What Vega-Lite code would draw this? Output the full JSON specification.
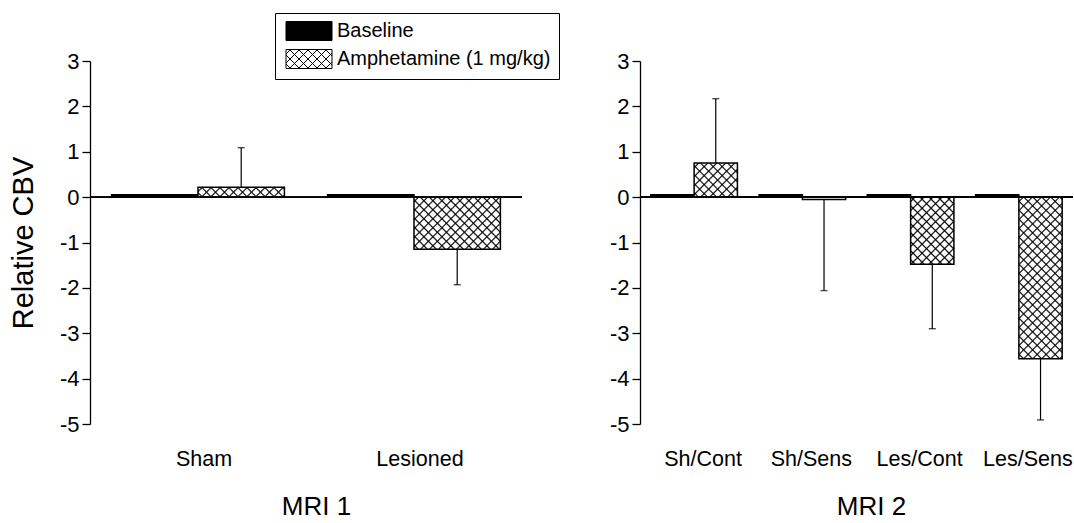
{
  "$schema": "https://vega.github.io/schema/vega-lite/v6.json",
  "padding": {"left": 9, "top": 12, "right": 0, "bottom": 0},
  "bounds": "flush",
  "spacing": 118,
  "resolve": {"scale": {"xOffset": "independent"}},
  "datasets": {
    "mri1": [
      {"group": "Sham", "treatment": "Baseline", "value": 0.05},
      {"group": "Sham", "treatment": "Amphetamine (1 mg/kg)", "value": 0.22, "bound": 1.09},
      {"group": "Lesioned", "treatment": "Baseline", "value": 0.05},
      {"group": "Lesioned", "treatment": "Amphetamine (1 mg/kg)", "value": -1.15, "bound": -1.93}
    ],
    "mri2": [
      {"group": "Sh/Cont", "treatment": "Baseline", "value": 0.05},
      {"group": "Sh/Cont", "treatment": "Amphetamine (1 mg/kg)", "value": 0.75, "bound": 2.17},
      {"group": "Sh/Sens", "treatment": "Baseline", "value": 0.05},
      {"group": "Sh/Sens", "treatment": "Amphetamine (1 mg/kg)", "value": -0.05, "bound": -2.06},
      {"group": "Les/Cont", "treatment": "Baseline", "value": 0.05},
      {"group": "Les/Cont", "treatment": "Amphetamine (1 mg/kg)", "value": -1.48, "bound": -2.9},
      {"group": "Les/Sens", "treatment": "Baseline", "value": 0.05},
      {"group": "Les/Sens", "treatment": "Amphetamine (1 mg/kg)", "value": -3.56, "bound": -4.91}
    ]
  },
  "hconcat": [
    {
      "data": {"name": "mri1"},
      "width": 432,
      "height": 363,
      "layer": [
        {
          "mark": {"type": "bar", "stroke": "black", "strokeWidth": 1.5},
          "encoding": {
            "x": {"field": "group", "type": "nominal", "sort": null, "title": "MRI 1",
              "scale": {"paddingInner": 0.2, "paddingOuter": 0.1},
              "axis": {"domain": false, "ticks": false, "tickSize": 0, "labelAngle": 0,
                "labelFontSize": 21.5, "labelPadding": 24, "labelOffset": 6,
                "titleFontSize": 26, "titlePadding": 24, "titleX": 226}},
            "xOffset": {"field": "treatment", "sort": ["Baseline", "Amphetamine (1 mg/kg)"]},
            "y": {"field": "value", "type": "quantitative", "title": "Relative CBV", "scale": {"domain": [-5, 3], "nice": false},
              "axis": {"values": [-5, -4.5, -4, -3.5, -3, -2.5, -2, -1.5, -1, -0.5, 0, 0.5, 1, 1.5, 2, 2.5, 3],
                "labelExpr": "datum.value % 1 === 0 ? '' + datum.value : ''", "labelOverlap": false,
                "tickSize": {"condition": {"test": "datum.value % 1 === 0", "value": 8}, "value": 4},
                "labelFontSize": 22, "labelPadding": 3, "domainWidth": 1.3, "tickWidth": 1.3,
                "titleFontSize": 29, "titlePadding": 21}},
            "color": {"field": "treatment", "type": "nominal",
              "scale": {"domain": ["Baseline", "Amphetamine (1 mg/kg)"], "range": ["black", "white"]},
              "legend": {"title": null, "orient": "none", "legendX": 185, "legendY": -48, "direction": "vertical",
                "strokeColor": "black", "fillColor": "white", "padding": 8, "rowPadding": 4,
                "symbolType": "M0,-9.5H46V9.5H0ZM0,-5L4.5,-9.5M0,4L13.5,-9.5M3.5,9.5L22.5,-9.5M12.5,9.5L31.5,-9.5M21.5,9.5L40.5,-9.5M30.5,9.5L46,-6M39.5,9.5L46,3M0,5L4.5,9.5M0,-4L13.5,9.5M3.5,-9.5L22.5,9.5M12.5,-9.5L31.5,9.5M21.5,-9.5L40.5,9.5M30.5,-9.5L46,6M39.5,-9.5L46,-3",
                "symbolSize": 4, "symbolStrokeColor": "black", "symbolStrokeWidth": 1, "symbolOffset": -7,
                "labelOffset": 41, "labelFont": "Liberation Sans", "labelFontSize": 20, "labelColor": "black", "labelLimit": 0}}
          }
        },
        {
          "transform": [{"filter": "datum.group === 'Sham' && datum.treatment !== 'Baseline'"}],
          "mark": {"type": "bar", "fill": {"gradient": "linear", "x1": 0, "y1": 0, "x2": 2.467, "y2": 0.285, "stops": [
            {"offset":0.0133,"color":"#0000"},{"offset":0.0208,"color":"#000"},{"offset":0.0283,"color":"#0000"},
            {"offset":0.0550,"color":"#0000"},{"offset":0.0625,"color":"#000"},{"offset":0.0700,"color":"#0000"},
            {"offset":0.0967,"color":"#0000"},{"offset":0.1042,"color":"#000"},{"offset":0.1117,"color":"#0000"},
            {"offset":0.1383,"color":"#0000"},{"offset":0.1458,"color":"#000"},{"offset":0.1533,"color":"#0000"},
            {"offset":0.1800,"color":"#0000"},{"offset":0.1875,"color":"#000"},{"offset":0.1950,"color":"#0000"},
            {"offset":0.2217,"color":"#0000"},{"offset":0.2292,"color":"#000"},{"offset":0.2367,"color":"#0000"},
            {"offset":0.2633,"color":"#0000"},{"offset":0.2708,"color":"#000"},{"offset":0.2783,"color":"#0000"},
            {"offset":0.3050,"color":"#0000"},{"offset":0.3125,"color":"#000"},{"offset":0.3200,"color":"#0000"},
            {"offset":0.3467,"color":"#0000"},{"offset":0.3542,"color":"#000"},{"offset":0.3617,"color":"#0000"},
            {"offset":0.3883,"color":"#0000"},{"offset":0.3958,"color":"#000"},{"offset":0.4033,"color":"#0000"},
            {"offset":0.4300,"color":"#0000"},{"offset":0.4375,"color":"#000"},{"offset":0.4450,"color":"#0000"},
            {"offset":0.4717,"color":"#0000"},{"offset":0.4792,"color":"#000"},{"offset":0.4867,"color":"#0000"}]}},
          "encoding": {
            "x": {"field": "group", "type": "nominal", "sort": null},
            "xOffset": {"field": "treatment", "sort": ["Baseline", "Amphetamine (1 mg/kg)"]},
            "y": {"field": "value", "type": "quantitative", "scale": {"domain": [-5, 3], "nice": false}}
          }
        },
        {
          "transform": [{"filter": "datum.group === 'Sham' && datum.treatment !== 'Baseline'"}],
          "mark": {"type": "bar", "fill": {"gradient": "linear", "x1": 0, "y1": 1, "x2": 2.467, "y2": 0.715, "stops": [
            {"offset":0.0133,"color":"#0000"},{"offset":0.0208,"color":"#000"},{"offset":0.0283,"color":"#0000"},
            {"offset":0.0550,"color":"#0000"},{"offset":0.0625,"color":"#000"},{"offset":0.0700,"color":"#0000"},
            {"offset":0.0967,"color":"#0000"},{"offset":0.1042,"color":"#000"},{"offset":0.1117,"color":"#0000"},
            {"offset":0.1383,"color":"#0000"},{"offset":0.1458,"color":"#000"},{"offset":0.1533,"color":"#0000"},
            {"offset":0.1800,"color":"#0000"},{"offset":0.1875,"color":"#000"},{"offset":0.1950,"color":"#0000"},
            {"offset":0.2217,"color":"#0000"},{"offset":0.2292,"color":"#000"},{"offset":0.2367,"color":"#0000"},
            {"offset":0.2633,"color":"#0000"},{"offset":0.2708,"color":"#000"},{"offset":0.2783,"color":"#0000"},
            {"offset":0.3050,"color":"#0000"},{"offset":0.3125,"color":"#000"},{"offset":0.3200,"color":"#0000"},
            {"offset":0.3467,"color":"#0000"},{"offset":0.3542,"color":"#000"},{"offset":0.3617,"color":"#0000"},
            {"offset":0.3883,"color":"#0000"},{"offset":0.3958,"color":"#000"},{"offset":0.4033,"color":"#0000"},
            {"offset":0.4300,"color":"#0000"},{"offset":0.4375,"color":"#000"},{"offset":0.4450,"color":"#0000"},
            {"offset":0.4717,"color":"#0000"},{"offset":0.4792,"color":"#000"},{"offset":0.4867,"color":"#0000"}]}},
          "encoding": {
            "x": {"field": "group", "type": "nominal", "sort": null},
            "xOffset": {"field": "treatment", "sort": ["Baseline", "Amphetamine (1 mg/kg)"]},
            "y": {"field": "value", "type": "quantitative", "scale": {"domain": [-5, 3], "nice": false}}
          }
        },
        {
          "transform": [{"filter": "datum.group === 'Lesioned' && datum.treatment !== 'Baseline'"}],
          "mark": {"type": "bar", "fill": {"gradient": "linear", "x1": 0, "y1": 0, "x2": 1.832, "y2": 1.106, "stops": [
            {"offset":0.0133,"color":"#0000"},{"offset":0.0208,"color":"#000"},{"offset":0.0283,"color":"#0000"},
            {"offset":0.0550,"color":"#0000"},{"offset":0.0625,"color":"#000"},{"offset":0.0700,"color":"#0000"},
            {"offset":0.0967,"color":"#0000"},{"offset":0.1042,"color":"#000"},{"offset":0.1117,"color":"#0000"},
            {"offset":0.1383,"color":"#0000"},{"offset":0.1458,"color":"#000"},{"offset":0.1533,"color":"#0000"},
            {"offset":0.1800,"color":"#0000"},{"offset":0.1875,"color":"#000"},{"offset":0.1950,"color":"#0000"},
            {"offset":0.2217,"color":"#0000"},{"offset":0.2292,"color":"#000"},{"offset":0.2367,"color":"#0000"},
            {"offset":0.2633,"color":"#0000"},{"offset":0.2708,"color":"#000"},{"offset":0.2783,"color":"#0000"},
            {"offset":0.3050,"color":"#0000"},{"offset":0.3125,"color":"#000"},{"offset":0.3200,"color":"#0000"},
            {"offset":0.3467,"color":"#0000"},{"offset":0.3542,"color":"#000"},{"offset":0.3617,"color":"#0000"},
            {"offset":0.3883,"color":"#0000"},{"offset":0.3958,"color":"#000"},{"offset":0.4033,"color":"#0000"},
            {"offset":0.4300,"color":"#0000"},{"offset":0.4375,"color":"#000"},{"offset":0.4450,"color":"#0000"},
            {"offset":0.4717,"color":"#0000"},{"offset":0.4792,"color":"#000"},{"offset":0.4867,"color":"#0000"},
            {"offset":0.5133,"color":"#0000"},{"offset":0.5208,"color":"#000"},{"offset":0.5283,"color":"#0000"},
            {"offset":0.5550,"color":"#0000"},{"offset":0.5625,"color":"#000"},{"offset":0.5700,"color":"#0000"},
            {"offset":0.5967,"color":"#0000"},{"offset":0.6042,"color":"#000"},{"offset":0.6117,"color":"#0000"},
            {"offset":0.6383,"color":"#0000"},{"offset":0.6458,"color":"#000"},{"offset":0.6533,"color":"#0000"}]}},
          "encoding": {
            "x": {"field": "group", "type": "nominal", "sort": null},
            "xOffset": {"field": "treatment", "sort": ["Baseline", "Amphetamine (1 mg/kg)"]},
            "y": {"field": "value", "type": "quantitative", "scale": {"domain": [-5, 3], "nice": false}}
          }
        },
        {
          "transform": [{"filter": "datum.group === 'Lesioned' && datum.treatment !== 'Baseline'"}],
          "mark": {"type": "bar", "fill": {"gradient": "linear", "x1": 0, "y1": 1, "x2": 1.832, "y2": -0.106, "stops": [
            {"offset":0.0133,"color":"#0000"},{"offset":0.0208,"color":"#000"},{"offset":0.0283,"color":"#0000"},
            {"offset":0.0550,"color":"#0000"},{"offset":0.0625,"color":"#000"},{"offset":0.0700,"color":"#0000"},
            {"offset":0.0967,"color":"#0000"},{"offset":0.1042,"color":"#000"},{"offset":0.1117,"color":"#0000"},
            {"offset":0.1383,"color":"#0000"},{"offset":0.1458,"color":"#000"},{"offset":0.1533,"color":"#0000"},
            {"offset":0.1800,"color":"#0000"},{"offset":0.1875,"color":"#000"},{"offset":0.1950,"color":"#0000"},
            {"offset":0.2217,"color":"#0000"},{"offset":0.2292,"color":"#000"},{"offset":0.2367,"color":"#0000"},
            {"offset":0.2633,"color":"#0000"},{"offset":0.2708,"color":"#000"},{"offset":0.2783,"color":"#0000"},
            {"offset":0.3050,"color":"#0000"},{"offset":0.3125,"color":"#000"},{"offset":0.3200,"color":"#0000"},
            {"offset":0.3467,"color":"#0000"},{"offset":0.3542,"color":"#000"},{"offset":0.3617,"color":"#0000"},
            {"offset":0.3883,"color":"#0000"},{"offset":0.3958,"color":"#000"},{"offset":0.4033,"color":"#0000"},
            {"offset":0.4300,"color":"#0000"},{"offset":0.4375,"color":"#000"},{"offset":0.4450,"color":"#0000"},
            {"offset":0.4717,"color":"#0000"},{"offset":0.4792,"color":"#000"},{"offset":0.4867,"color":"#0000"},
            {"offset":0.5133,"color":"#0000"},{"offset":0.5208,"color":"#000"},{"offset":0.5283,"color":"#0000"},
            {"offset":0.5550,"color":"#0000"},{"offset":0.5625,"color":"#000"},{"offset":0.5700,"color":"#0000"},
            {"offset":0.5967,"color":"#0000"},{"offset":0.6042,"color":"#000"},{"offset":0.6117,"color":"#0000"},
            {"offset":0.6383,"color":"#0000"},{"offset":0.6458,"color":"#000"},{"offset":0.6533,"color":"#0000"}]}},
          "encoding": {
            "x": {"field": "group", "type": "nominal", "sort": null},
            "xOffset": {"field": "treatment", "sort": ["Baseline", "Amphetamine (1 mg/kg)"]},
            "y": {"field": "value", "type": "quantitative", "scale": {"domain": [-5, 3], "nice": false}}
          }
        },
        {
          "mark": {"type": "rule", "color": "black", "strokeWidth": 1.3},
          "encoding": {"y": {"datum": 0, "type": "quantitative", "scale": {"domain": [-5, 3], "nice": false}}}
        },
        {
          "transform": [{"filter": "isValid(datum.bound)"}],
          "mark": {"type": "rule", "color": "black", "strokeWidth": 1.2},
          "encoding": {
            "x": {"field": "group", "type": "nominal", "sort": null},
            "xOffset": {"field": "treatment", "sort": ["Baseline", "Amphetamine (1 mg/kg)"]},
            "y": {"field": "value", "type": "quantitative", "scale": {"domain": [-5, 3], "nice": false}},
            "y2": {"field": "bound"}
          }
        },
        {
          "transform": [{"filter": "isValid(datum.bound)"}],
          "mark": {"type": "tick", "orient": "horizontal", "size": 7, "thickness": 1.4, "color": "black"},
          "encoding": {
            "x": {"field": "group", "type": "nominal", "sort": null},
            "xOffset": {"field": "treatment", "sort": ["Baseline", "Amphetamine (1 mg/kg)"]},
            "y": {"field": "bound", "type": "quantitative", "scale": {"domain": [-5, 3], "nice": false}}
          }
        }
      ]
    },
    {
      "data": {"name": "mri2"},
      "width": 433,
      "height": 363,
      "layer": [
        {
          "mark": {"type": "bar", "stroke": "black", "strokeWidth": 1.5},
          "encoding": {
            "x": {"field": "group", "type": "nominal", "sort": null, "title": "MRI 2",
              "scale": {"paddingInner": 0.2, "paddingOuter": 0.1},
              "axis": {"domain": false, "ticks": false, "tickSize": 0, "labelAngle": 0,
                "labelFontSize": 21.5, "labelPadding": 24, "labelOffset": 9,
                "titleFontSize": 26, "titlePadding": 24, "titleX": 231}},
            "xOffset": {"field": "treatment", "sort": ["Baseline", "Amphetamine (1 mg/kg)"]},
            "y": {"field": "value", "type": "quantitative", "title": null, "scale": {"domain": [-5, 3], "nice": false},
              "axis": {"values": [-5, -4.5, -4, -3.5, -3, -2.5, -2, -1.5, -1, -0.5, 0, 0.5, 1, 1.5, 2, 2.5, 3],
                "labelExpr": "datum.value % 1 === 0 ? '' + datum.value : ''", "labelOverlap": false,
                "tickSize": {"condition": {"test": "datum.value % 1 === 0", "value": 8}, "value": 4},
                "labelFontSize": 22, "labelPadding": 3, "domainWidth": 1.3, "tickWidth": 1.3}},
            "color": {"field": "treatment", "type": "nominal",
              "scale": {"domain": ["Baseline", "Amphetamine (1 mg/kg)"], "range": ["black", "white"]}}
          }
        },
        {
          "transform": [{"filter": "datum.group === 'Sh/Cont' && datum.treatment !== 'Baseline'"}],
          "mark": {"type": "bar", "fill": {"gradient": "linear", "x1": 0, "y1": 0, "x2": 3.084, "y2": 2.424, "stops": [
            {"offset":0.0133,"color":"#0000"},{"offset":0.0208,"color":"#000"},{"offset":0.0283,"color":"#0000"},
            {"offset":0.0550,"color":"#0000"},{"offset":0.0625,"color":"#000"},{"offset":0.0700,"color":"#0000"},
            {"offset":0.0967,"color":"#0000"},{"offset":0.1042,"color":"#000"},{"offset":0.1117,"color":"#0000"},
            {"offset":0.1383,"color":"#0000"},{"offset":0.1458,"color":"#000"},{"offset":0.1533,"color":"#0000"},
            {"offset":0.1800,"color":"#0000"},{"offset":0.1875,"color":"#000"},{"offset":0.1950,"color":"#0000"},
            {"offset":0.2217,"color":"#0000"},{"offset":0.2292,"color":"#000"},{"offset":0.2367,"color":"#0000"},
            {"offset":0.2633,"color":"#0000"},{"offset":0.2708,"color":"#000"},{"offset":0.2783,"color":"#0000"},
            {"offset":0.3050,"color":"#0000"},{"offset":0.3125,"color":"#000"},{"offset":0.3200,"color":"#0000"},
            {"offset":0.3467,"color":"#0000"},{"offset":0.3542,"color":"#000"},{"offset":0.3617,"color":"#0000"},
            {"offset":0.3883,"color":"#0000"},{"offset":0.3958,"color":"#000"},{"offset":0.4033,"color":"#0000"}]}},
          "encoding": {
            "x": {"field": "group", "type": "nominal", "sort": null},
            "xOffset": {"field": "treatment", "sort": ["Baseline", "Amphetamine (1 mg/kg)"]},
            "y": {"field": "value", "type": "quantitative", "scale": {"domain": [-5, 3], "nice": false}}
          }
        },
        {
          "transform": [{"filter": "datum.group === 'Sh/Cont' && datum.treatment !== 'Baseline'"}],
          "mark": {"type": "bar", "fill": {"gradient": "linear", "x1": 0, "y1": 1, "x2": 3.084, "y2": -1.424, "stops": [
            {"offset":0.0133,"color":"#0000"},{"offset":0.0208,"color":"#000"},{"offset":0.0283,"color":"#0000"},
            {"offset":0.0550,"color":"#0000"},{"offset":0.0625,"color":"#000"},{"offset":0.0700,"color":"#0000"},
            {"offset":0.0967,"color":"#0000"},{"offset":0.1042,"color":"#000"},{"offset":0.1117,"color":"#0000"},
            {"offset":0.1383,"color":"#0000"},{"offset":0.1458,"color":"#000"},{"offset":0.1533,"color":"#0000"},
            {"offset":0.1800,"color":"#0000"},{"offset":0.1875,"color":"#000"},{"offset":0.1950,"color":"#0000"},
            {"offset":0.2217,"color":"#0000"},{"offset":0.2292,"color":"#000"},{"offset":0.2367,"color":"#0000"},
            {"offset":0.2633,"color":"#0000"},{"offset":0.2708,"color":"#000"},{"offset":0.2783,"color":"#0000"},
            {"offset":0.3050,"color":"#0000"},{"offset":0.3125,"color":"#000"},{"offset":0.3200,"color":"#0000"},
            {"offset":0.3467,"color":"#0000"},{"offset":0.3542,"color":"#000"},{"offset":0.3617,"color":"#0000"},
            {"offset":0.3883,"color":"#0000"},{"offset":0.3958,"color":"#000"},{"offset":0.4033,"color":"#0000"}]}},
          "encoding": {
            "x": {"field": "group", "type": "nominal", "sort": null},
            "xOffset": {"field": "treatment", "sort": ["Baseline", "Amphetamine (1 mg/kg)"]},
            "y": {"field": "value", "type": "quantitative", "scale": {"domain": [-5, 3], "nice": false}}
          }
        },
        {
          "transform": [{"filter": "datum.group === 'Les/Cont' && datum.treatment !== 'Baseline'"}],
          "mark": {"type": "bar", "fill": {"gradient": "linear", "x1": 0, "y1": 0, "x2": 1.465, "y2": 2.272, "stops": [
            {"offset":0.0133,"color":"#0000"},{"offset":0.0208,"color":"#000"},{"offset":0.0283,"color":"#0000"},
            {"offset":0.0550,"color":"#0000"},{"offset":0.0625,"color":"#000"},{"offset":0.0700,"color":"#0000"},
            {"offset":0.0967,"color":"#0000"},{"offset":0.1042,"color":"#000"},{"offset":0.1117,"color":"#0000"},
            {"offset":0.1383,"color":"#0000"},{"offset":0.1458,"color":"#000"},{"offset":0.1533,"color":"#0000"},
            {"offset":0.1800,"color":"#0000"},{"offset":0.1875,"color":"#000"},{"offset":0.1950,"color":"#0000"},
            {"offset":0.2217,"color":"#0000"},{"offset":0.2292,"color":"#000"},{"offset":0.2367,"color":"#0000"},
            {"offset":0.2633,"color":"#0000"},{"offset":0.2708,"color":"#000"},{"offset":0.2783,"color":"#0000"},
            {"offset":0.3050,"color":"#0000"},{"offset":0.3125,"color":"#000"},{"offset":0.3200,"color":"#0000"},
            {"offset":0.3467,"color":"#0000"},{"offset":0.3542,"color":"#000"},{"offset":0.3617,"color":"#0000"},
            {"offset":0.3883,"color":"#0000"},{"offset":0.3958,"color":"#000"},{"offset":0.4033,"color":"#0000"},
            {"offset":0.4300,"color":"#0000"},{"offset":0.4375,"color":"#000"},{"offset":0.4450,"color":"#0000"},
            {"offset":0.4717,"color":"#0000"},{"offset":0.4792,"color":"#000"},{"offset":0.4867,"color":"#0000"},
            {"offset":0.5133,"color":"#0000"},{"offset":0.5208,"color":"#000"},{"offset":0.5283,"color":"#0000"}]}},
          "encoding": {
            "x": {"field": "group", "type": "nominal", "sort": null},
            "xOffset": {"field": "treatment", "sort": ["Baseline", "Amphetamine (1 mg/kg)"]},
            "y": {"field": "value", "type": "quantitative", "scale": {"domain": [-5, 3], "nice": false}}
          }
        },
        {
          "transform": [{"filter": "datum.group === 'Les/Cont' && datum.treatment !== 'Baseline'"}],
          "mark": {"type": "bar", "fill": {"gradient": "linear", "x1": 0, "y1": 1, "x2": 1.465, "y2": -1.272, "stops": [
            {"offset":0.0133,"color":"#0000"},{"offset":0.0208,"color":"#000"},{"offset":0.0283,"color":"#0000"},
            {"offset":0.0550,"color":"#0000"},{"offset":0.0625,"color":"#000"},{"offset":0.0700,"color":"#0000"},
            {"offset":0.0967,"color":"#0000"},{"offset":0.1042,"color":"#000"},{"offset":0.1117,"color":"#0000"},
            {"offset":0.1383,"color":"#0000"},{"offset":0.1458,"color":"#000"},{"offset":0.1533,"color":"#0000"},
            {"offset":0.1800,"color":"#0000"},{"offset":0.1875,"color":"#000"},{"offset":0.1950,"color":"#0000"},
            {"offset":0.2217,"color":"#0000"},{"offset":0.2292,"color":"#000"},{"offset":0.2367,"color":"#0000"},
            {"offset":0.2633,"color":"#0000"},{"offset":0.2708,"color":"#000"},{"offset":0.2783,"color":"#0000"},
            {"offset":0.3050,"color":"#0000"},{"offset":0.3125,"color":"#000"},{"offset":0.3200,"color":"#0000"},
            {"offset":0.3467,"color":"#0000"},{"offset":0.3542,"color":"#000"},{"offset":0.3617,"color":"#0000"},
            {"offset":0.3883,"color":"#0000"},{"offset":0.3958,"color":"#000"},{"offset":0.4033,"color":"#0000"},
            {"offset":0.4300,"color":"#0000"},{"offset":0.4375,"color":"#000"},{"offset":0.4450,"color":"#0000"},
            {"offset":0.4717,"color":"#0000"},{"offset":0.4792,"color":"#000"},{"offset":0.4867,"color":"#0000"},
            {"offset":0.5133,"color":"#0000"},{"offset":0.5208,"color":"#000"},{"offset":0.5283,"color":"#0000"}]}},
          "encoding": {
            "x": {"field": "group", "type": "nominal", "sort": null},
            "xOffset": {"field": "treatment", "sort": ["Baseline", "Amphetamine (1 mg/kg)"]},
            "y": {"field": "value", "type": "quantitative", "scale": {"domain": [-5, 3], "nice": false}}
          }
        },
        {
          "transform": [{"filter": "datum.group === 'Les/Sens' && datum.treatment !== 'Baseline'"}],
          "mark": {"type": "bar", "fill": {"gradient": "linear", "x1": 0, "y1": 0, "x2": 0.3344, "y2": 1.2475, "stops": [
            {"offset":0.0133,"color":"#0000"},{"offset":0.0208,"color":"#000"},{"offset":0.0283,"color":"#0000"},
            {"offset":0.0550,"color":"#0000"},{"offset":0.0625,"color":"#000"},{"offset":0.0700,"color":"#0000"},
            {"offset":0.0967,"color":"#0000"},{"offset":0.1042,"color":"#000"},{"offset":0.1117,"color":"#0000"},
            {"offset":0.1383,"color":"#0000"},{"offset":0.1458,"color":"#000"},{"offset":0.1533,"color":"#0000"},
            {"offset":0.1800,"color":"#0000"},{"offset":0.1875,"color":"#000"},{"offset":0.1950,"color":"#0000"},
            {"offset":0.2217,"color":"#0000"},{"offset":0.2292,"color":"#000"},{"offset":0.2367,"color":"#0000"},
            {"offset":0.2633,"color":"#0000"},{"offset":0.2708,"color":"#000"},{"offset":0.2783,"color":"#0000"},
            {"offset":0.3050,"color":"#0000"},{"offset":0.3125,"color":"#000"},{"offset":0.3200,"color":"#0000"},
            {"offset":0.3467,"color":"#0000"},{"offset":0.3542,"color":"#000"},{"offset":0.3617,"color":"#0000"},
            {"offset":0.3883,"color":"#0000"},{"offset":0.3958,"color":"#000"},{"offset":0.4033,"color":"#0000"},
            {"offset":0.4300,"color":"#0000"},{"offset":0.4375,"color":"#000"},{"offset":0.4450,"color":"#0000"},
            {"offset":0.4717,"color":"#0000"},{"offset":0.4792,"color":"#000"},{"offset":0.4867,"color":"#0000"},
            {"offset":0.5133,"color":"#0000"},{"offset":0.5208,"color":"#000"},{"offset":0.5283,"color":"#0000"},
            {"offset":0.5550,"color":"#0000"},{"offset":0.5625,"color":"#000"},{"offset":0.5700,"color":"#0000"},
            {"offset":0.5967,"color":"#0000"},{"offset":0.6042,"color":"#000"},{"offset":0.6117,"color":"#0000"},
            {"offset":0.6383,"color":"#0000"},{"offset":0.6458,"color":"#000"},{"offset":0.6533,"color":"#0000"},
            {"offset":0.6800,"color":"#0000"},{"offset":0.6875,"color":"#000"},{"offset":0.6950,"color":"#0000"},
            {"offset":0.7217,"color":"#0000"},{"offset":0.7292,"color":"#000"},{"offset":0.7367,"color":"#0000"},
            {"offset":0.7633,"color":"#0000"},{"offset":0.7708,"color":"#000"},{"offset":0.7783,"color":"#0000"},
            {"offset":0.8050,"color":"#0000"},{"offset":0.8125,"color":"#000"},{"offset":0.8200,"color":"#0000"},
            {"offset":0.8467,"color":"#0000"},{"offset":0.8542,"color":"#000"},{"offset":0.8617,"color":"#0000"},
            {"offset":0.8883,"color":"#0000"},{"offset":0.8958,"color":"#000"},{"offset":0.9033,"color":"#0000"},
            {"offset":0.9300,"color":"#0000"},{"offset":0.9375,"color":"#000"},{"offset":0.9450,"color":"#0000"},
            {"offset":0.9717,"color":"#0000"},{"offset":0.9792,"color":"#000"},{"offset":0.9867,"color":"#0000"}]}},
          "encoding": {
            "x": {"field": "group", "type": "nominal", "sort": null},
            "xOffset": {"field": "treatment", "sort": ["Baseline", "Amphetamine (1 mg/kg)"]},
            "y": {"field": "value", "type": "quantitative", "scale": {"domain": [-5, 3], "nice": false}}
          }
        },
        {
          "transform": [{"filter": "datum.group === 'Les/Sens' && datum.treatment !== 'Baseline'"}],
          "mark": {"type": "bar", "fill": {"gradient": "linear", "x1": 0, "y1": 1, "x2": 0.3344, "y2": -0.2475, "stops": [
            {"offset":0.0133,"color":"#0000"},{"offset":0.0208,"color":"#000"},{"offset":0.0283,"color":"#0000"},
            {"offset":0.0550,"color":"#0000"},{"offset":0.0625,"color":"#000"},{"offset":0.0700,"color":"#0000"},
            {"offset":0.0967,"color":"#0000"},{"offset":0.1042,"color":"#000"},{"offset":0.1117,"color":"#0000"},
            {"offset":0.1383,"color":"#0000"},{"offset":0.1458,"color":"#000"},{"offset":0.1533,"color":"#0000"},
            {"offset":0.1800,"color":"#0000"},{"offset":0.1875,"color":"#000"},{"offset":0.1950,"color":"#0000"},
            {"offset":0.2217,"color":"#0000"},{"offset":0.2292,"color":"#000"},{"offset":0.2367,"color":"#0000"},
            {"offset":0.2633,"color":"#0000"},{"offset":0.2708,"color":"#000"},{"offset":0.2783,"color":"#0000"},
            {"offset":0.3050,"color":"#0000"},{"offset":0.3125,"color":"#000"},{"offset":0.3200,"color":"#0000"},
            {"offset":0.3467,"color":"#0000"},{"offset":0.3542,"color":"#000"},{"offset":0.3617,"color":"#0000"},
            {"offset":0.3883,"color":"#0000"},{"offset":0.3958,"color":"#000"},{"offset":0.4033,"color":"#0000"},
            {"offset":0.4300,"color":"#0000"},{"offset":0.4375,"color":"#000"},{"offset":0.4450,"color":"#0000"},
            {"offset":0.4717,"color":"#0000"},{"offset":0.4792,"color":"#000"},{"offset":0.4867,"color":"#0000"},
            {"offset":0.5133,"color":"#0000"},{"offset":0.5208,"color":"#000"},{"offset":0.5283,"color":"#0000"},
            {"offset":0.5550,"color":"#0000"},{"offset":0.5625,"color":"#000"},{"offset":0.5700,"color":"#0000"},
            {"offset":0.5967,"color":"#0000"},{"offset":0.6042,"color":"#000"},{"offset":0.6117,"color":"#0000"},
            {"offset":0.6383,"color":"#0000"},{"offset":0.6458,"color":"#000"},{"offset":0.6533,"color":"#0000"},
            {"offset":0.6800,"color":"#0000"},{"offset":0.6875,"color":"#000"},{"offset":0.6950,"color":"#0000"},
            {"offset":0.7217,"color":"#0000"},{"offset":0.7292,"color":"#000"},{"offset":0.7367,"color":"#0000"},
            {"offset":0.7633,"color":"#0000"},{"offset":0.7708,"color":"#000"},{"offset":0.7783,"color":"#0000"},
            {"offset":0.8050,"color":"#0000"},{"offset":0.8125,"color":"#000"},{"offset":0.8200,"color":"#0000"},
            {"offset":0.8467,"color":"#0000"},{"offset":0.8542,"color":"#000"},{"offset":0.8617,"color":"#0000"},
            {"offset":0.8883,"color":"#0000"},{"offset":0.8958,"color":"#000"},{"offset":0.9033,"color":"#0000"},
            {"offset":0.9300,"color":"#0000"},{"offset":0.9375,"color":"#000"},{"offset":0.9450,"color":"#0000"},
            {"offset":0.9717,"color":"#0000"},{"offset":0.9792,"color":"#000"},{"offset":0.9867,"color":"#0000"}]}},
          "encoding": {
            "x": {"field": "group", "type": "nominal", "sort": null},
            "xOffset": {"field": "treatment", "sort": ["Baseline", "Amphetamine (1 mg/kg)"]},
            "y": {"field": "value", "type": "quantitative", "scale": {"domain": [-5, 3], "nice": false}}
          }
        },
        {
          "mark": {"type": "rule", "color": "black", "strokeWidth": 1.3},
          "encoding": {"y": {"datum": 0, "type": "quantitative", "scale": {"domain": [-5, 3], "nice": false}}}
        },
        {
          "transform": [{"filter": "isValid(datum.bound)"}],
          "mark": {"type": "rule", "color": "black", "strokeWidth": 1.2},
          "encoding": {
            "x": {"field": "group", "type": "nominal", "sort": null},
            "xOffset": {"field": "treatment", "sort": ["Baseline", "Amphetamine (1 mg/kg)"]},
            "y": {"field": "value", "type": "quantitative", "scale": {"domain": [-5, 3], "nice": false}},
            "y2": {"field": "bound"}
          }
        },
        {
          "transform": [{"filter": "isValid(datum.bound)"}],
          "mark": {"type": "tick", "orient": "horizontal", "size": 7, "thickness": 1.4, "color": "black"},
          "encoding": {
            "x": {"field": "group", "type": "nominal", "sort": null},
            "xOffset": {"field": "treatment", "sort": ["Baseline", "Amphetamine (1 mg/kg)"]},
            "y": {"field": "bound", "type": "quantitative", "scale": {"domain": [-5, 3], "nice": false}}
          }
        }
      ]
    }
  ],
  "config": {
    "view": {"stroke": null},
    "font": "Liberation Sans",
    "axis": {"labelColor": "black", "titleColor": "black", "domainColor": "black", "tickColor": "black", "grid": false, "titleFontWeight": "normal", "labelFont": "Liberation Sans", "titleFont": "Liberation Sans"}
  }
}
